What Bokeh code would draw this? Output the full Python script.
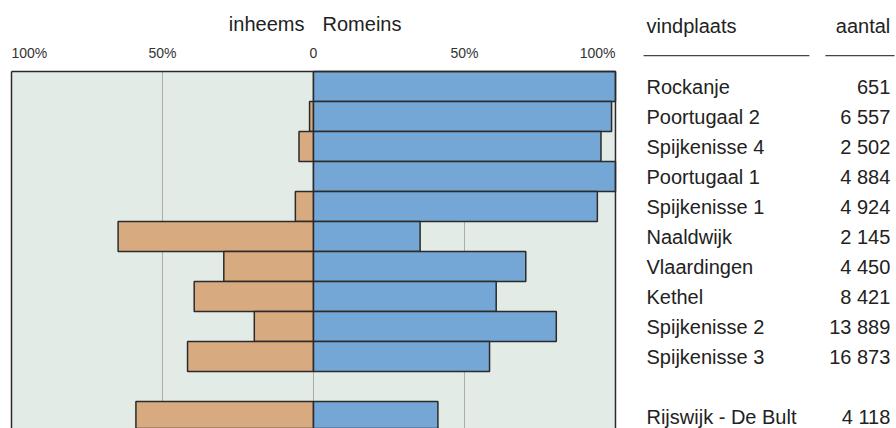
from bokeh.plotting import figure
from bokeh.models import Range1d, ColumnDataSource
from bokeh.core.properties import value
from bokeh.embed import file_html
from bokeh.resources import INLINE

# ---- data ----
sites = ["Rockanje", "Poortugaal 2", "Spijkenisse 4", "Poortugaal 1", "Spijkenisse 1",
         "Naaldwijk", "Vlaardingen", "Kethel", "Spijkenisse 2", "Spijkenisse 3",
         "Rijswijk - De Bult"]
counts = [651, 6557, 2502, 4884, 4924, 2145, 4450, 8421, 13889, 16873, 4118]
romeins = [100, 98.7, 95.2, 100, 94.0, 35.3, 70.3, 60.5, 80.4, 58.3, 41.2]
inheems = [0, 1.3, 4.8, 0, 6.0, 64.7, 29.7, 39.5, 19.6, 41.7, 58.8]
row_slot = [0, 1, 2, 3, 4, 5, 6, 7, 8, 9, 11]   # one empty row before Rijswijk
tick_values = [-100, -50, 0, 50, 100]
tick_labels = ["100%", "50%", "0", "50%", "100%"]
grid_values = [-50, 0, 50]
side_labels = ["inheems", "Romeins"]
table_headers = ["vindplaats", "aantal"]

# ---- styling ----
FONT = value("Liberation Sans")
BLUE = "#74A6D6"
TAN = "#D8AA80"
BG = "#E3EBE6"
EDGE = "#2b2b2b"
TXT = "#222222"

X_MIN, X_MAX = -103.64, 193.05
Y_TOP, Y_BOTTOM = -2.367, 11.9
N_SLOTS = 12

p = figure(width=896, height=428, output_backend="svg", toolbar_location=None,
           x_range=Range1d(X_MIN, X_MAX), y_range=Range1d(start=Y_BOTTOM, end=Y_TOP),
           min_border=0, min_border_left=0, min_border_right=0,
           min_border_top=0, min_border_bottom=0)
p.axis.visible = False
p.grid.visible = False
p.outline_line_color = None
p.background_fill_color = "white"
p.border_fill_color = "white"

# plot background panel
p.quad(left=[tick_values[0]], right=[tick_values[-1]], top=[0], bottom=[N_SLOTS],
       fill_color=BG, line_color=None)

# vertical grid lines
p.segment(x0=grid_values, x1=grid_values, y0=[0] * len(grid_values),
          y1=[N_SLOTS] * len(grid_values), line_color="#a9aeab", line_width=1)

yc = [s + 0.5 for s in row_slot]
src = ColumnDataSource(dict(y=yc, rom=romeins, inh=[-v for v in inheems],
                            site=sites,
                            cnt=[f"{c:,}".replace(",", " ") for c in counts]))

p.hbar(y="y", left="inh", right=0, height=1, source=src,
       fill_color=TAN, line_color=EDGE, line_width=1.5)
p.hbar(y="y", left=0, right="rom", height=1, source=src,
       fill_color=BLUE, line_color=EDGE, line_width=1.5)

# frame border (left, right, top)
p.segment(x0=[tick_values[0], tick_values[-1], tick_values[0]],
          x1=[tick_values[0], tick_values[-1], tick_values[-1]],
          y0=[0, 0, 0], y1=[N_SLOTS, N_SLOTS, 0],
          line_color=EDGE, line_width=1.5)

# tick labels
aligns = ["left"] + ["center"] * (len(tick_values) - 2) + ["right"]
p.text(x=tick_values, y=[-0.63] * len(tick_values), text=tick_labels,
       text_align=aligns, text_baseline="middle", text_font=FONT,
       text_font_size="14px", text_color="#333333")

# side titles
p.text(x=[-3, 3], y=[-1.57, -1.57], text=side_labels,
       text_align=["right", "left"], text_baseline="middle", text_font=FONT,
       text_font_size="20px", text_color=TXT)

# table
NAME_X, NUM_X = 110.26, 191.0
p.text(x=[NAME_X, NUM_X], y=[-1.53, -1.53], text=table_headers,
       text_align=["left", "right"], text_baseline="middle", text_font=FONT,
       text_font_size="20px", text_color=TXT)
p.segment(x0=[109.3, 169.5], x1=[164.2, 192.4], y0=[-0.53, -0.53], y1=[-0.53, -0.53],
          line_color="#444444", line_width=1.2)
p.text(x=NAME_X, y="y", text="site", source=src, text_align="left",
       text_baseline="middle", text_font=FONT, text_font_size="20px",
       text_color=TXT)
p.text(x=NUM_X, y="y", text="cnt", source=src, text_align="right",
       text_baseline="middle", text_font=FONT, text_font_size="20px",
       text_color=TXT)

open("out.html", "w").write(file_html(p, INLINE))
